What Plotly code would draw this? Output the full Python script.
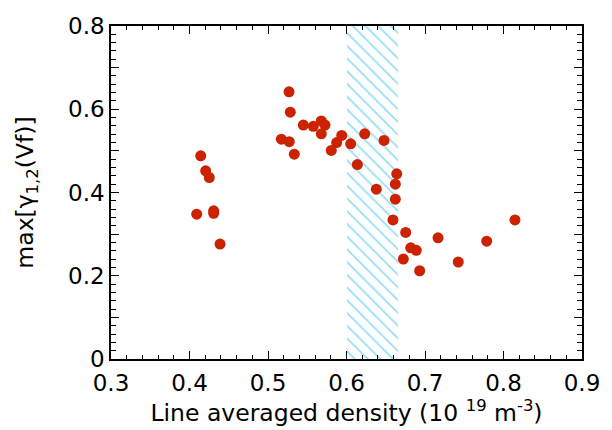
import plotly.graph_objects as go

# Data
density = [0.4143, 0.4206, 0.4252, 0.4092, 0.4308, 0.4308, 0.4389,
           0.5268, 0.5284, 0.5450, 0.5577, 0.5679, 0.5726, 0.5679,
           0.5170, 0.5271, 0.5335, 0.5939, 0.5875, 0.5806, 0.6053,
           0.6232, 0.6138, 0.6478, 0.6380, 0.6640, 0.6622, 0.6622,
           0.6592, 0.6754, 0.7166, 0.8146, 0.6818, 0.6889, 0.7786,
           0.6724, 0.7424, 0.6932]
gamma_max = [0.488, 0.452, 0.436, 0.348, 0.356, 0.350, 0.276,
             0.642, 0.593, 0.562, 0.559, 0.572, 0.562, 0.541,
             0.528, 0.522, 0.492, 0.537, 0.520, 0.501, 0.517,
             0.541, 0.467, 0.525, 0.408, 0.445, 0.420, 0.384,
             0.334, 0.304, 0.291, 0.334, 0.267, 0.261, 0.283,
             0.240, 0.233, 0.212]

hatch_x = [0.600, 0.665]
hatch_y = [0.0, 0.8]

x_ticks = [0.3, 0.4, 0.5, 0.6, 0.7, 0.8, 0.9]
x_ticktext = ["0.3", "0.4", "0.5", "0.6", "0.7", "0.8", "0.9"]
y_ticks = [0.0, 0.1, 0.2, 0.3, 0.4, 0.5, 0.6, 0.7, 0.8]
y_ticktext = ["0", "", "0.2", "", "0.4", "", "0.6", "", "0.8"]

FONT = "DejaVu Sans"

fig = go.Figure()

fig.add_trace(go.Bar(
    x=[(hatch_x[0] + hatch_x[1]) / 2],
    y=[hatch_y[1] - hatch_y[0]],
    base=[hatch_y[0]],
    width=[hatch_x[1] - hatch_x[0]],
    marker=dict(
        color="rgba(0,0,0,0)",
        line=dict(width=0),
        pattern=dict(shape="\\", fgcolor="#2EBFEE", bgcolor="rgba(0,0,0,0)",
                     size=9, solidity=0.2, fillmode="overlay"),
    ),
    showlegend=False,
    hoverinfo="skip",
))

fig.add_trace(go.Scatter(
    x=density, y=gamma_max, mode="markers",
    marker=dict(size=11, color="#CC2200", line=dict(width=0)),
    showlegend=False,
))

axis_common = dict(
    showline=True, linecolor="black", linewidth=1.5, mirror="allticks",
    ticks="inside", ticklen=8, tickwidth=1.3, tickcolor="black",
    showgrid=False, zeroline=False,
    tickfont=dict(family=FONT, size=23, color="black"),
)

fig.update_xaxes(
    range=[0.3, 0.9], tickmode="array", tickvals=x_ticks, ticktext=x_ticktext,
    minor=dict(dtick=0.02, ticks="inside", ticklen=4, tickwidth=1.2, tickcolor="black", showgrid=False),
    ticklabelstandoff=3,
    title=dict(text="Line averaged density (10 <sup>19</sup> m<sup>-3</sup>)",
               font=dict(family=FONT, size=23.5, color="black"), standoff=2),
    **axis_common,
)
fig.update_yaxes(
    range=[0, 0.8], tickmode="array", tickvals=y_ticks, ticktext=y_ticktext,
    minor=dict(dtick=0.02, ticks="inside", ticklen=5, tickwidth=1.2, tickcolor="black", showgrid=False),
    title=dict(text="max[γ<sub>1,2</sub>(Vf)]",
               font=dict(family=FONT, size=23.5, color="black"), standoff=28),
    **axis_common,
)

fig.update_layout(
    width=612, height=430,
    margin=dict(l=111, r=30, t=26, b=71),
    plot_bgcolor="white", paper_bgcolor="white",
    bargap=0,
)

fig.write_html("out.html")
